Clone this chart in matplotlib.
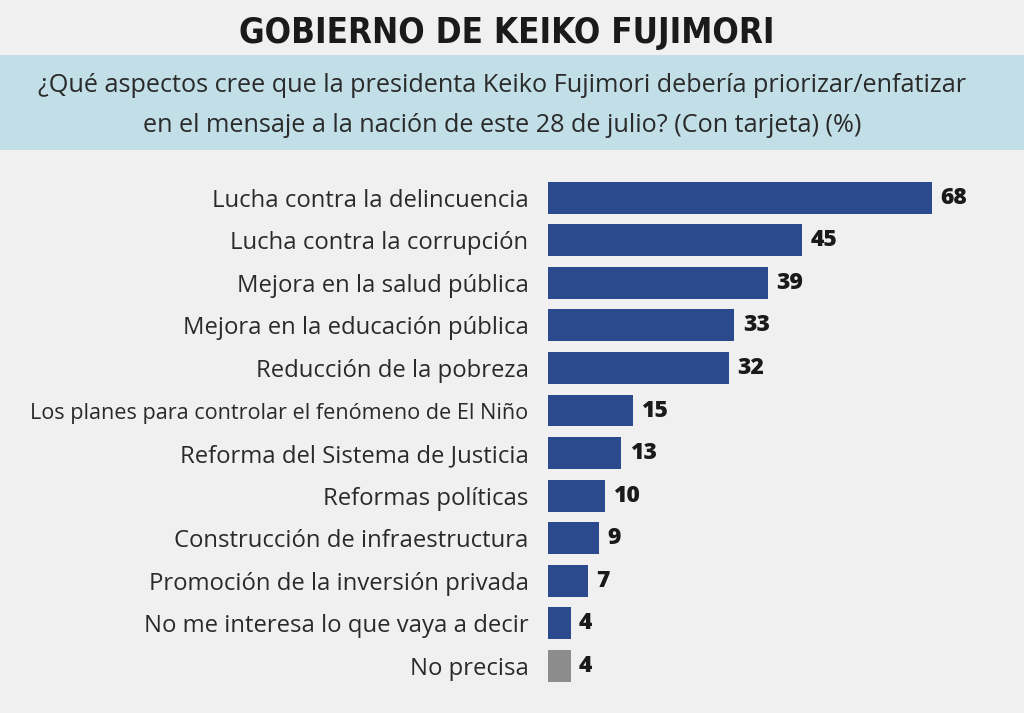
import matplotlib.pyplot as plt
from matplotlib.patches import Rectangle

categorias = [
    "Lucha contra la delincuencia",
    "Lucha contra la corrupción",
    "Mejora en la salud pública",
    "Mejora en la educación pública",
    "Reducción de la pobreza",
    "Los planes para controlar el fenómeno de El Niño",
    "Reforma del Sistema de Justicia",
    "Reformas políticas",
    "Construcción de infraestructura",
    "Promoción de la inversión privada",
    "No me interesa lo que vaya a decir",
    "No precisa",
]
valores = [68, 45, 39, 33, 32, 15, 13, 10, 9, 7, 4, 4]
titulo = "GOBIERNO DE KEIKO FUJIMORI"
pregunta = ["¿Qué aspectos cree que la presidenta Keiko Fujimori debería priorizar/enfatizar",
            "en el mensaje a la nación de este 28 de julio? (Con tarjeta) (%)"]

azul = "#2b4a8e"
gris = "#8c8c8c"
fondo = "#f0f0f0"
fuente = ["Open Sans", "DejaVu Sans"]

W, H = 1024, 713
fig = plt.figure(figsize=(W / 100, H / 100), dpi=100, facecolor=fondo)

# banda celeste
fig.patches.append(Rectangle((0, 1 - 150 / H), 1, 95 / H, transform=fig.transFigure,
                             facecolor="#c2dfe8", edgecolor="none", zorder=0))
fig.text(507 / W, 1 - 33 / H, titulo, ha="center", va="center", fontsize=25,
         fontweight="heavy", fontstretch="condensed", family=["DejaVu Sans"], color="#1a1a1a")
for k, linea in enumerate(pregunta):
    fig.text(502 / W, 1 - (86 + 39 * k) / H, linea, ha="center", va="center", fontsize=18.2,
             family=fuente, color="#2a2a2a")

# ejes: barras desde x=548, 5.65 px por punto
ax = fig.add_axes([548 / W, 1 - 687.3 / H, 452 / W, 511 / H])
ax.set_facecolor("none")
colores = [azul] * (len(valores) - 1) + [gris]
y = list(range(len(valores)))
ax.barh(y, valores, height=0.75, color=colores)
ax.set_xlim(0, 452 / 5.65)
ax.set_ylim(len(valores) - 0.5, -0.5)
for yi, v in zip(y, valores):
    ax.annotate(str(v), (v, yi), xytext=(6, 0), textcoords="offset points",
                ha="left", va="center", fontsize=16.5, fontweight="heavy",
                family=fuente, color="#1a1a1a")
ax.set_yticks(y)
ax.set_yticklabels(categorias, family=fuente, color="#2a2a2a")
for lab in ax.get_yticklabels():
    lab.set_fontsize(15.6 if len(lab.get_text()) > 40 else 17.2)
ax.tick_params(axis="y", length=0, pad=14)
ax.set_xticks([])
for s in ax.spines.values():
    s.set_visible(False)

fig.savefig("out.png", dpi=100, facecolor=fondo)
